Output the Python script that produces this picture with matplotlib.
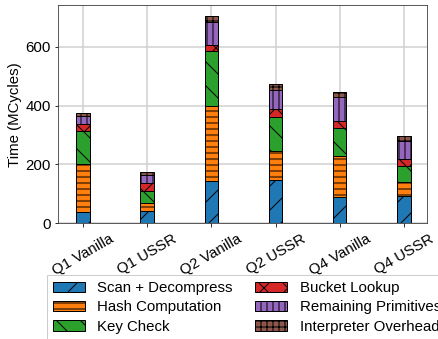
import matplotlib
matplotlib.use("Agg")
import matplotlib.pyplot as plt
import numpy as np

plt.rcParams['font.family'] = ['Liberation Sans', 'DejaVu Sans']
plt.rcParams['hatch.linewidth'] = 1.0

categories = ["Q1 Vanilla", "Q1 USSR", "Q2 Vanilla", "Q2 USSR", "Q4 Vanilla", "Q4 USSR"]
components = ["Scan + Decompress", "Hash Computation", "Key Check",
              "Bucket Lookup", "Remaining Primitives", "Interpreter Overhead"]
scan = [38, 41, 145, 146, 91, 92]
hash_comp = [162, 27, 253, 101, 137, 50]
key_check = [113, 42, 186, 116, 97, 52]
bucket = [23, 27, 23, 24, 23, 23]
remaining = [28, 27, 78, 67, 82, 64]
interp = [10, 10, 21, 20, 17, 17]
series = [scan, hash_comp, key_check, bucket, remaining, interp]
colors = ['#1f77b4', '#ff7f0e', '#2ca02c', '#d62728', '#9467bd', '#8c564b']
hatches = ['/', '--', '\\', 'x', '||', '++']

fig = plt.figure(figsize=(438/72, 339/72), dpi=72)
ax = fig.add_axes([58/438, 1-223.3/339, (427-58)/438, (223.3-5)/339])

x = np.arange(len(categories))
bottom = np.zeros(len(categories))
for vals, lab, c, h in zip(series, components, colors, hatches):
    ax.bar(x, vals, width=0.21, bottom=bottom, color=c, hatch=h,
           edgecolor='black', linewidth=1.0, label=lab, zorder=3)
    bottom += np.array(vals)

ax.set_xlim(-0.39, 5.36)
ax.set_ylim(0, 742)
ax.set_yticks([0, 200, 400, 600])
ax.set_xticks(x)
ax.set_xticklabels(categories, rotation=30, fontsize=15)
ax.tick_params(axis='y', labelsize=15)
ax.tick_params(axis='x', pad=5)
ax.set_ylabel("Time (MCycles)", fontsize=15)
ax.grid(True, color='#d0d0d0', linewidth=1.5, zorder=0)
ax.set_axisbelow(True)
for s in ax.spines.values():
    s.set_color('#333333')

fig.legend(loc='upper left', bbox_to_anchor=(47/438, 1-275/339), ncol=2,
           fontsize=15, handlelength=2.1, handletextpad=0.85, columnspacing=1.5,
           labelspacing=0.35, borderaxespad=0, fancybox=False, edgecolor='#cccccc',
           framealpha=1)

fig.savefig("out.png", dpi=72)
